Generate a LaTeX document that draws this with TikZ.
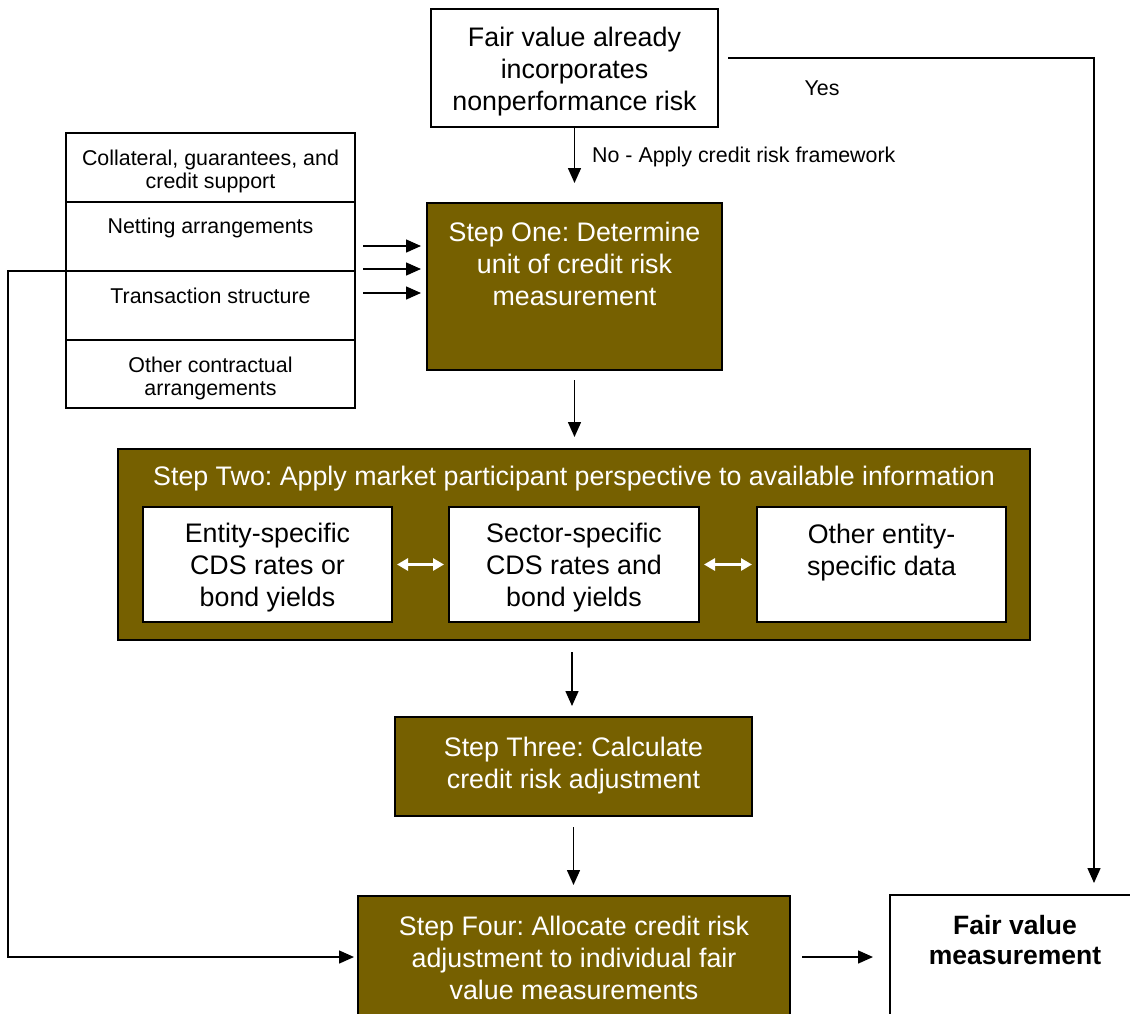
\documentclass[tikz,border=0pt]{standalone}
\usepackage{fontspec}
\setmainfont{Liberation Sans}
\usetikzlibrary{arrows.meta,calc}
\definecolor{stepolive}{RGB}{118,96,0}
\frenchspacing
\begin{document}
\begin{tikzpicture}[x=1pt,y=-1pt,
  big/.style={font=\fontsize{26.8}{32}\selectfont},
  small/.style={font=\fontsize{21.4}{23}\selectfont},
  whitebox/.style={draw=black, line width=1.4pt, fill=white, inner sep=0pt, outer sep=0pt},
  stepbox/.style={draw=black, line width=1.2pt, fill=stepolive, inner sep=0pt, outer sep=0pt},
  lbl/.style={inner sep=0pt, align=center},
  arr/.style={line width=1.5pt, -{Triangle[length=15pt,width=13pt]}},
  dbl/.style={white, line width=3pt, {Triangle[length=11pt,width=12pt]}-{Triangle[length=11pt,width=12pt]}},
]
\useasboundingbox (0,0) rectangle (1130,1013);
\clip (0,0) rectangle (1130,1013);

% top question box
\node[whitebox, minimum width=287pt, minimum height=118pt] (q) at (574.5,68) {};
\node[lbl, big] (qt) at (574.5,72) {Fair value already\\incorporates\\nonperformance risk};

% left stack
\node[whitebox, minimum width=289pt, minimum height=69pt] (c1) at (210.5,167.5) {};
\node[whitebox, minimum width=289pt, minimum height=69pt] (c2) at (210.5,236.5) {};
\node[whitebox, minimum width=289pt, minimum height=69pt] (c3) at (210.5,305.5) {};
\node[whitebox, minimum width=289pt, minimum height=68pt] (c4) at (210.5,374) {};
\node[lbl, small] (t1) at (210.5,171) {Collateral, guarantees, and\\credit support};
\node[lbl, small] (t2) at (210.5,228) {Netting arrangements};
\node[lbl, small] (t3) at (210.5,296) {Transaction structure};
\node[lbl, small] (t4) at (210.5,378) {Other contractual\\arrangements};
\draw[line width=2.4pt] (c1.south west) -- (c1.south east);
\draw[line width=2.4pt] (c3.north west) -- (c3.north east);

% step one
\node[stepbox, minimum width=295pt, minimum height=167pt] (s1) at (574.5,286.5) {};
\node[lbl, big, white] (s1t) at (574.5,264) {Step One: Determine\\unit of credit risk\\measurement};

% step two
\node[stepbox, minimum width=912pt, minimum height=191pt] (s2) at (574,544.5) {};
\node[lbl, big, white] (s2t) at (574,479) {Step Two: Apply market participant perspective to available information};
\node[whitebox, line width=1.2pt, minimum width=249pt, minimum height=115pt] (e1) at (267.5,564.5) {};
\node[whitebox, line width=1.2pt, minimum width=250pt, minimum height=115pt] (e2) at (574,564.5) {};
\node[whitebox, line width=1.2pt, minimum width=249pt, minimum height=115pt] (e3) at (881.5,564.5) {};
\node[lbl, big] (e1t) at (267.5,568) {Entity-specific\\CDS rates or\\bond yields};
\node[lbl, big] (e2t) at (574,568) {Sector-specific\\CDS rates and\\bond yields};
\node[lbl, big] (e3t) at (881.5,553) {Other entity-\\specific data};

% step three
\node[stepbox, minimum width=357pt, minimum height=99pt] (s3) at (573.5,766.5) {};
\node[lbl, big, white] (s3t) at (573.5,766) {Step Three: Calculate\\credit risk adjustment};

% step four
\node[stepbox, minimum width=432pt, minimum height=134pt] (s4) at (574,963) {};
\node[lbl, big, white] (s4t) at (574,958) {Step Four: Allocate credit risk\\adjustment to individual fair\\value measurements};

% fair value measurement
\node[whitebox, minimum width=250pt, minimum height=135pt] (fv) at (1015,962.5) {};
\node[lbl, font=\fontsize{26.5}{30}\selectfont\bfseries] (fvt) at (1015,940) {Fair value\\measurement};

% connectors
\draw[arr, shorten >=20pt] (q.south) -- (q.south |- s1.north);
\node[lbl, small, anchor=west] (nolab) at (592,157) {No - Apply credit risk framework};

\coordinate (ys) at (728,58);
\coordinate (yc) at (1094,58);
\draw[arr, shorten >=12pt] (ys) -- (yc) -- (yc |- fv.north);
\node[lbl, small] (yeslab) at (822,88) {Yes};

\coordinate (a1) at (363,246);
\coordinate (a2) at (363,269);
\coordinate (a3) at (363,293);
\draw[arr, shorten >=6pt] (a1) -- (a1 -| s1.west);
\draw[arr, shorten >=6pt] (a2) -- (a2 -| s1.west);
\draw[arr, shorten >=6pt] (a3) -- (a3 -| s1.west);

\draw[arr, shorten <=10pt, shorten >=12pt] (s1.south) -- (s1.south |- s2.north);
\coordinate (m2) at (572,640);
\draw[arr, shorten <=12pt, shorten >=11pt] (m2) -- (m2 |- s3.north);
\draw[arr, shorten <=11pt, shorten >=11pt] (s3.south) -- (s3.south |- s4.north);

\draw[dbl, shorten <=5pt, shorten >=5pt] (e1.east) -- (e2.west);
\draw[dbl, shorten <=5pt, shorten >=5pt] (e2.east) -- (e3.west);

\coordinate (fb) at (8,957);
\draw[arr, shorten >=4pt] (c2.south west) -| (fb) -- (s4.west |- fb);
\draw[arr, shorten <=12pt, shorten >=17pt] (s4.east |- fb) -- (fv.west |- fb);
\end{tikzpicture}
\end{document}
